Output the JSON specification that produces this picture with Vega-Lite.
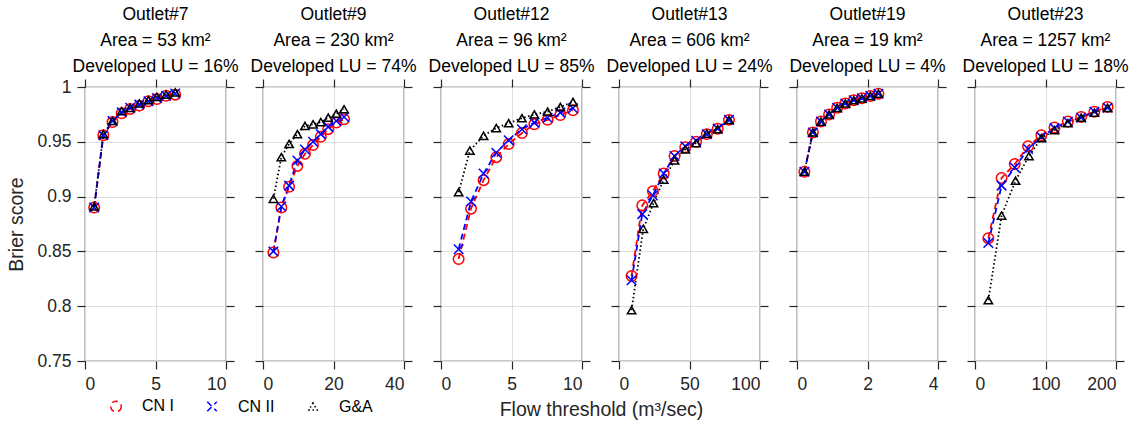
{
  "$schema": "https://vega.github.io/schema/vega-lite/v6.json",
  "background": "white",
  "padding": {"left": 6, "top": 4, "right": 0, "bottom": 0},
  "bounds": "flush",
  "spacing": 37,
  "config": {
    "font": "Liberation Sans",
    "view": {"stroke": "#262626", "strokeWidth": 1.2},
    "axis": {"domain": false, "tickColor": "#262626", "tickSize": 8, "tickWidth": 1.2, "labelFont": "Liberation Sans", "labelFontSize": 17.5, "labelColor": "#262626", "titleFont": "Liberation Sans", "titleFontSize": 19.5, "titleFontWeight": "normal", "titleColor": "#262626", "gridColor": "#dedede", "gridWidth": 1, "labelPadding": 6},
    "title": {"font": "Liberation Sans", "fontSize": 17.5, "fontWeight": "normal", "color": "#000000", "lineHeight": 26, "offset": 3, "anchor": "middle"},
    "legend": {"labelFont": "Liberation Sans", "labelFontSize": 16, "labelColor": "#000000", "symbolStrokeWidth": 1.5, "columnPadding": 30, "labelOffset": 18, "symbolSize": 120}
  },
  "datasets": {
    "d": [
      {"o": "Outlet#7", "s": "CN I", "x": 0.65, "y": 0.890},
      {"o": "Outlet#7", "s": "CN I", "x": 1.3, "y": 0.956},
      {"o": "Outlet#7", "s": "CN I", "x": 1.95, "y": 0.968},
      {"o": "Outlet#7", "s": "CN I", "x": 2.6, "y": 0.976},
      {"o": "Outlet#7", "s": "CN I", "x": 3.2, "y": 0.980},
      {"o": "Outlet#7", "s": "CN I", "x": 3.85, "y": 0.983},
      {"o": "Outlet#7", "s": "CN I", "x": 4.5, "y": 0.987},
      {"o": "Outlet#7", "s": "CN I", "x": 5.1, "y": 0.989},
      {"o": "Outlet#7", "s": "CN I", "x": 5.75, "y": 0.992},
      {"o": "Outlet#7", "s": "CN I", "x": 6.4, "y": 0.993},
      {"o": "Outlet#7", "s": "CN II", "x": 0.65, "y": 0.890},
      {"o": "Outlet#7", "s": "CN II", "x": 1.3, "y": 0.956},
      {"o": "Outlet#7", "s": "CN II", "x": 1.95, "y": 0.969},
      {"o": "Outlet#7", "s": "CN II", "x": 2.6, "y": 0.977},
      {"o": "Outlet#7", "s": "CN II", "x": 3.2, "y": 0.981},
      {"o": "Outlet#7", "s": "CN II", "x": 3.85, "y": 0.984},
      {"o": "Outlet#7", "s": "CN II", "x": 4.5, "y": 0.987},
      {"o": "Outlet#7", "s": "CN II", "x": 5.1, "y": 0.990},
      {"o": "Outlet#7", "s": "CN II", "x": 5.75, "y": 0.992},
      {"o": "Outlet#7", "s": "CN II", "x": 6.4, "y": 0.994},
      {"o": "Outlet#7", "s": "G&A", "x": 0.65, "y": 0.891},
      {"o": "Outlet#7", "s": "G&A", "x": 1.3, "y": 0.957},
      {"o": "Outlet#7", "s": "G&A", "x": 1.95, "y": 0.969},
      {"o": "Outlet#7", "s": "G&A", "x": 2.6, "y": 0.978},
      {"o": "Outlet#7", "s": "G&A", "x": 3.2, "y": 0.981},
      {"o": "Outlet#7", "s": "G&A", "x": 3.85, "y": 0.985},
      {"o": "Outlet#7", "s": "G&A", "x": 4.5, "y": 0.988},
      {"o": "Outlet#7", "s": "G&A", "x": 5.1, "y": 0.991},
      {"o": "Outlet#7", "s": "G&A", "x": 5.75, "y": 0.993},
      {"o": "Outlet#7", "s": "G&A", "x": 6.4, "y": 0.995},

      {"o": "Outlet#9", "s": "CN I", "x": 2.95, "y": 0.849},
      {"o": "Outlet#9", "s": "CN I", "x": 5.2, "y": 0.890},
      {"o": "Outlet#9", "s": "CN I", "x": 7.4, "y": 0.909},
      {"o": "Outlet#9", "s": "CN I", "x": 9.75, "y": 0.928},
      {"o": "Outlet#9", "s": "CN I", "x": 11.9, "y": 0.939},
      {"o": "Outlet#9", "s": "CN I", "x": 14.2, "y": 0.947},
      {"o": "Outlet#9", "s": "CN I", "x": 16.4, "y": 0.9545},
      {"o": "Outlet#9", "s": "CN I", "x": 18.5, "y": 0.9615},
      {"o": "Outlet#9", "s": "CN I", "x": 20.8, "y": 0.9675},
      {"o": "Outlet#9", "s": "CN I", "x": 23.0, "y": 0.9706},
      {"o": "Outlet#9", "s": "CN II", "x": 2.95, "y": 0.850},
      {"o": "Outlet#9", "s": "CN II", "x": 5.2, "y": 0.891},
      {"o": "Outlet#9", "s": "CN II", "x": 7.4, "y": 0.910},
      {"o": "Outlet#9", "s": "CN II", "x": 9.75, "y": 0.933},
      {"o": "Outlet#9", "s": "CN II", "x": 11.9, "y": 0.943},
      {"o": "Outlet#9", "s": "CN II", "x": 14.2, "y": 0.950},
      {"o": "Outlet#9", "s": "CN II", "x": 16.4, "y": 0.957},
      {"o": "Outlet#9", "s": "CN II", "x": 18.5, "y": 0.9636},
      {"o": "Outlet#9", "s": "CN II", "x": 20.8, "y": 0.969},
      {"o": "Outlet#9", "s": "CN II", "x": 23.0, "y": 0.9727},
      {"o": "Outlet#9", "s": "G&A", "x": 2.95, "y": 0.898},
      {"o": "Outlet#9", "s": "G&A", "x": 5.2, "y": 0.936},
      {"o": "Outlet#9", "s": "G&A", "x": 7.4, "y": 0.948},
      {"o": "Outlet#9", "s": "G&A", "x": 9.75, "y": 0.957},
      {"o": "Outlet#9", "s": "G&A", "x": 11.9, "y": 0.9645},
      {"o": "Outlet#9", "s": "G&A", "x": 14.2, "y": 0.966},
      {"o": "Outlet#9", "s": "G&A", "x": 16.4, "y": 0.968},
      {"o": "Outlet#9", "s": "G&A", "x": 18.5, "y": 0.972},
      {"o": "Outlet#9", "s": "G&A", "x": 20.8, "y": 0.9757},
      {"o": "Outlet#9", "s": "G&A", "x": 23.0, "y": 0.9797},

      {"o": "Outlet#12", "s": "CN I", "x": 1.25, "y": 0.843},
      {"o": "Outlet#12", "s": "CN I", "x": 2.13, "y": 0.889},
      {"o": "Outlet#12", "s": "CN I", "x": 3.02, "y": 0.915},
      {"o": "Outlet#12", "s": "CN I", "x": 3.92, "y": 0.936},
      {"o": "Outlet#12", "s": "CN I", "x": 4.8, "y": 0.948},
      {"o": "Outlet#12", "s": "CN I", "x": 5.74, "y": 0.958},
      {"o": "Outlet#12", "s": "CN I", "x": 6.62, "y": 0.966},
      {"o": "Outlet#12", "s": "CN I", "x": 7.56, "y": 0.970},
      {"o": "Outlet#12", "s": "CN I", "x": 8.46, "y": 0.9745},
      {"o": "Outlet#12", "s": "CN I", "x": 9.36, "y": 0.9788},
      {"o": "Outlet#12", "s": "CN II", "x": 1.25, "y": 0.852},
      {"o": "Outlet#12", "s": "CN II", "x": 2.13, "y": 0.8955},
      {"o": "Outlet#12", "s": "CN II", "x": 3.02, "y": 0.921},
      {"o": "Outlet#12", "s": "CN II", "x": 3.92, "y": 0.940},
      {"o": "Outlet#12", "s": "CN II", "x": 4.8, "y": 0.9515},
      {"o": "Outlet#12", "s": "CN II", "x": 5.74, "y": 0.9615},
      {"o": "Outlet#12", "s": "CN II", "x": 6.62, "y": 0.9675},
      {"o": "Outlet#12", "s": "CN II", "x": 7.56, "y": 0.972},
      {"o": "Outlet#12", "s": "CN II", "x": 8.46, "y": 0.9766},
      {"o": "Outlet#12", "s": "CN II", "x": 9.36, "y": 0.9806},
      {"o": "Outlet#12", "s": "G&A", "x": 1.25, "y": 0.904},
      {"o": "Outlet#12", "s": "G&A", "x": 2.05, "y": 0.942},
      {"o": "Outlet#12", "s": "G&A", "x": 3.02, "y": 0.9555},
      {"o": "Outlet#12", "s": "G&A", "x": 3.92, "y": 0.9625},
      {"o": "Outlet#12", "s": "G&A", "x": 4.8, "y": 0.967},
      {"o": "Outlet#12", "s": "G&A", "x": 5.74, "y": 0.9715},
      {"o": "Outlet#12", "s": "G&A", "x": 6.62, "y": 0.975},
      {"o": "Outlet#12", "s": "G&A", "x": 7.56, "y": 0.9775},
      {"o": "Outlet#12", "s": "G&A", "x": 8.46, "y": 0.9818},
      {"o": "Outlet#12", "s": "G&A", "x": 9.36, "y": 0.9864},

      {"o": "Outlet#13", "s": "CN I", "x": 8.9, "y": 0.8276},
      {"o": "Outlet#13", "s": "CN I", "x": 16.5, "y": 0.892},
      {"o": "Outlet#13", "s": "CN I", "x": 24.0, "y": 0.905},
      {"o": "Outlet#13", "s": "CN I", "x": 31.7, "y": 0.921},
      {"o": "Outlet#13", "s": "CN I", "x": 39.4, "y": 0.937},
      {"o": "Outlet#13", "s": "CN I", "x": 47.0, "y": 0.945},
      {"o": "Outlet#13", "s": "CN I", "x": 54.7, "y": 0.950},
      {"o": "Outlet#13", "s": "CN I", "x": 62.3, "y": 0.957},
      {"o": "Outlet#13", "s": "CN I", "x": 70.0, "y": 0.962},
      {"o": "Outlet#13", "s": "CN I", "x": 78.0, "y": 0.970},
      {"o": "Outlet#13", "s": "CN II", "x": 8.9, "y": 0.8236},
      {"o": "Outlet#13", "s": "CN II", "x": 16.5, "y": 0.884},
      {"o": "Outlet#13", "s": "CN II", "x": 24.0, "y": 0.901},
      {"o": "Outlet#13", "s": "CN II", "x": 31.7, "y": 0.921},
      {"o": "Outlet#13", "s": "CN II", "x": 39.4, "y": 0.937},
      {"o": "Outlet#13", "s": "CN II", "x": 47.0, "y": 0.946},
      {"o": "Outlet#13", "s": "CN II", "x": 54.7, "y": 0.951},
      {"o": "Outlet#13", "s": "CN II", "x": 62.3, "y": 0.957},
      {"o": "Outlet#13", "s": "CN II", "x": 70.0, "y": 0.962},
      {"o": "Outlet#13", "s": "CN II", "x": 78.0, "y": 0.970},
      {"o": "Outlet#13", "s": "G&A", "x": 8.9, "y": 0.7964},
      {"o": "Outlet#13", "s": "G&A", "x": 17.2, "y": 0.8706},
      {"o": "Outlet#13", "s": "G&A", "x": 24.5, "y": 0.894},
      {"o": "Outlet#13", "s": "G&A", "x": 31.7, "y": 0.9155},
      {"o": "Outlet#13", "s": "G&A", "x": 39.4, "y": 0.933},
      {"o": "Outlet#13", "s": "G&A", "x": 47.0, "y": 0.943},
      {"o": "Outlet#13", "s": "G&A", "x": 54.7, "y": 0.9488},
      {"o": "Outlet#13", "s": "G&A", "x": 62.3, "y": 0.9575},
      {"o": "Outlet#13", "s": "G&A", "x": 70.0, "y": 0.9615},
      {"o": "Outlet#13", "s": "G&A", "x": 78.0, "y": 0.970},

      {"o": "Outlet#19", "s": "CN I", "x": 0.21, "y": 0.9227},
      {"o": "Outlet#19", "s": "CN I", "x": 0.45, "y": 0.9585},
      {"o": "Outlet#19", "s": "CN I", "x": 0.68, "y": 0.9685},
      {"o": "Outlet#19", "s": "CN I", "x": 0.91, "y": 0.975},
      {"o": "Outlet#19", "s": "CN I", "x": 1.14, "y": 0.981},
      {"o": "Outlet#19", "s": "CN I", "x": 1.37, "y": 0.985},
      {"o": "Outlet#19", "s": "CN I", "x": 1.61, "y": 0.988},
      {"o": "Outlet#19", "s": "CN I", "x": 1.84, "y": 0.9897},
      {"o": "Outlet#19", "s": "CN I", "x": 2.08, "y": 0.9918},
      {"o": "Outlet#19", "s": "CN I", "x": 2.31, "y": 0.9939},
      {"o": "Outlet#19", "s": "CN II", "x": 0.21, "y": 0.9227},
      {"o": "Outlet#19", "s": "CN II", "x": 0.45, "y": 0.9585},
      {"o": "Outlet#19", "s": "CN II", "x": 0.68, "y": 0.9685},
      {"o": "Outlet#19", "s": "CN II", "x": 0.91, "y": 0.975},
      {"o": "Outlet#19", "s": "CN II", "x": 1.14, "y": 0.981},
      {"o": "Outlet#19", "s": "CN II", "x": 1.37, "y": 0.985},
      {"o": "Outlet#19", "s": "CN II", "x": 1.61, "y": 0.988},
      {"o": "Outlet#19", "s": "CN II", "x": 1.84, "y": 0.9897},
      {"o": "Outlet#19", "s": "CN II", "x": 2.08, "y": 0.9918},
      {"o": "Outlet#19", "s": "CN II", "x": 2.31, "y": 0.9939},
      {"o": "Outlet#19", "s": "G&A", "x": 0.21, "y": 0.9227},
      {"o": "Outlet#19", "s": "G&A", "x": 0.45, "y": 0.9585},
      {"o": "Outlet#19", "s": "G&A", "x": 0.68, "y": 0.9685},
      {"o": "Outlet#19", "s": "G&A", "x": 0.91, "y": 0.975},
      {"o": "Outlet#19", "s": "G&A", "x": 1.14, "y": 0.981},
      {"o": "Outlet#19", "s": "G&A", "x": 1.37, "y": 0.985},
      {"o": "Outlet#19", "s": "G&A", "x": 1.61, "y": 0.988},
      {"o": "Outlet#19", "s": "G&A", "x": 1.84, "y": 0.9897},
      {"o": "Outlet#19", "s": "G&A", "x": 2.08, "y": 0.9918},
      {"o": "Outlet#19", "s": "G&A", "x": 2.31, "y": 0.9939},

      {"o": "Outlet#23", "s": "CN I", "x": 18.9, "y": 0.862},
      {"o": "Outlet#23", "s": "CN I", "x": 37.7, "y": 0.917},
      {"o": "Outlet#23", "s": "CN I", "x": 56.4, "y": 0.9297},
      {"o": "Outlet#23", "s": "CN I", "x": 75.3, "y": 0.946},
      {"o": "Outlet#23", "s": "CN I", "x": 94.1, "y": 0.956},
      {"o": "Outlet#23", "s": "CN I", "x": 112.8, "y": 0.963},
      {"o": "Outlet#23", "s": "CN I", "x": 131.7, "y": 0.9685},
      {"o": "Outlet#23", "s": "CN I", "x": 150.5, "y": 0.9727},
      {"o": "Outlet#23", "s": "CN I", "x": 169.3, "y": 0.9775},
      {"o": "Outlet#23", "s": "CN I", "x": 188.1, "y": 0.9818},
      {"o": "Outlet#23", "s": "CN II", "x": 18.9, "y": 0.8576},
      {"o": "Outlet#23", "s": "CN II", "x": 37.7, "y": 0.910},
      {"o": "Outlet#23", "s": "CN II", "x": 56.4, "y": 0.9266},
      {"o": "Outlet#23", "s": "CN II", "x": 75.3, "y": 0.9434},
      {"o": "Outlet#23", "s": "CN II", "x": 94.1, "y": 0.9545},
      {"o": "Outlet#23", "s": "CN II", "x": 112.8, "y": 0.9625},
      {"o": "Outlet#23", "s": "CN II", "x": 131.7, "y": 0.9685},
      {"o": "Outlet#23", "s": "CN II", "x": 150.5, "y": 0.972},
      {"o": "Outlet#23", "s": "CN II", "x": 169.3, "y": 0.9775},
      {"o": "Outlet#23", "s": "CN II", "x": 188.1, "y": 0.981},
      {"o": "Outlet#23", "s": "G&A", "x": 18.9, "y": 0.8055},
      {"o": "Outlet#23", "s": "G&A", "x": 37.7, "y": 0.8827},
      {"o": "Outlet#23", "s": "G&A", "x": 57.5, "y": 0.9145},
      {"o": "Outlet#23", "s": "G&A", "x": 76.5, "y": 0.937},
      {"o": "Outlet#23", "s": "G&A", "x": 94.1, "y": 0.9533},
      {"o": "Outlet#23", "s": "G&A", "x": 112.8, "y": 0.9606},
      {"o": "Outlet#23", "s": "G&A", "x": 131.7, "y": 0.967},
      {"o": "Outlet#23", "s": "G&A", "x": 150.5, "y": 0.972},
      {"o": "Outlet#23", "s": "G&A", "x": 169.3, "y": 0.9766},
      {"o": "Outlet#23", "s": "G&A", "x": 188.1, "y": 0.981}
    ]
  },
  "data": {"name": "d"},
  "hconcat": [
    {
      "width": 141, "height": 274,
      "title": {"text": ["Outlet#7", "Area = 53 km²", "Developed LU = 16%"]},
      "transform": [{"filter": "datum.o === 'Outlet#7'"}],
      "layer": [
        {"mark": {"type": "line", "strokeWidth": 1.8},
         "encoding": {
           "x": {"field": "x", "type": "quantitative", "scale": {"domain": [0, 10], "nice": false, "zero": false}, "axis": {"orient": "bottom", "values": [0, 5, 10], "title": null, "grid": true}},
           "y": {"field": "y", "type": "quantitative", "scale": {"domain": [0.75, 1], "nice": false, "zero": false}, "axis": {"orient": "left", "values": [0.75, 0.8, 0.85, 0.9, 0.95, 1], "format": "~g", "title": "Brier score", "grid": true, "titlePadding": 10}},
           "color": {"field": "s", "type": "nominal", "title": null, "scale": {"domain": ["CN I", "CN II", "G&A"], "range": ["#ff0000", "#0000ff", "#000000"]}, "legend": {"orient": "none", "legendX": 23, "legendY": 311, "direction": "horizontal", "title": null}},
           "strokeDash": {"field": "s", "type": "nominal", "scale": {"domain": ["CN I", "CN II", "G&A"], "range": [[6, 4], [6, 4], [1.5, 2.5]]}, "legend": null}
         }},
        {"mark": {"type": "point", "filled": false, "strokeWidth": 1.5, "opacity": 1},
         "encoding": {
           "x": {"field": "x", "type": "quantitative", "scale": {"domain": [0, 10], "nice": false, "zero": false}, "axis": {"orient": "top", "values": [0, 5, 10], "labels": false, "title": null, "grid": false}},
           "y": {"field": "y", "type": "quantitative", "scale": {"domain": [0.75, 1], "nice": false, "zero": false}, "axis": {"orient": "right", "values": [0.75, 0.8, 0.85, 0.9, 0.95, 1], "labels": false, "title": null, "grid": false}},
           "color": {"field": "s", "type": "nominal", "title": null, "scale": {"domain": ["CN I", "CN II", "G&A"], "range": ["#ff0000", "#0000ff", "#000000"]}},
           "shape": {"field": "s", "type": "nominal", "title": null, "scale": {"domain": ["CN I", "CN II", "G&A"], "range": ["circle", "M-1,-1L1,1M-1,1L1,-1", "triangle-up"]}},
           "size": {"field": "s", "type": "nominal", "scale": {"domain": ["CN I", "CN II", "G&A"], "range": [110, 70, 90]}, "legend": null}
         }}
      ],
      "resolve": {"axis": {"x": "independent", "y": "independent"}}
    },
    {
      "width": 141, "height": 274,
      "title": {"text": ["Outlet#9", "Area = 230 km²", "Developed LU = 74%"]},
      "transform": [{"filter": "datum.o === 'Outlet#9'"}],
      "layer": [
        {"mark": {"type": "line", "strokeWidth": 1.8},
         "encoding": {
           "x": {"field": "x", "type": "quantitative", "scale": {"domain": [0, 40], "nice": false, "zero": false}, "axis": {"orient": "bottom", "values": [0, 20, 40], "title": null, "grid": true}},
           "y": {"field": "y", "type": "quantitative", "scale": {"domain": [0.75, 1], "nice": false, "zero": false}, "axis": {"orient": "left", "values": [0.75, 0.8, 0.85, 0.9, 0.95, 1], "labels": false, "title": null, "grid": true}},
           "color": {"field": "s", "type": "nominal", "title": null, "scale": {"domain": ["CN I", "CN II", "G&A"], "range": ["#ff0000", "#0000ff", "#000000"]}},
           "strokeDash": {"field": "s", "type": "nominal", "scale": {"domain": ["CN I", "CN II", "G&A"], "range": [[6, 4], [6, 4], [1.5, 2.5]]}, "legend": null}
         }},
        {"mark": {"type": "point", "filled": false, "strokeWidth": 1.5, "opacity": 1},
         "encoding": {
           "x": {"field": "x", "type": "quantitative", "scale": {"domain": [0, 40], "nice": false, "zero": false}, "axis": {"orient": "top", "values": [0, 20, 40], "labels": false, "title": null, "grid": false}},
           "y": {"field": "y", "type": "quantitative", "scale": {"domain": [0.75, 1], "nice": false, "zero": false}, "axis": {"orient": "right", "values": [0.75, 0.8, 0.85, 0.9, 0.95, 1], "labels": false, "title": null, "grid": false}},
           "color": {"field": "s", "type": "nominal", "title": null, "scale": {"domain": ["CN I", "CN II", "G&A"], "range": ["#ff0000", "#0000ff", "#000000"]}},
           "shape": {"field": "s", "type": "nominal", "title": null, "scale": {"domain": ["CN I", "CN II", "G&A"], "range": ["circle", "M-1,-1L1,1M-1,1L1,-1", "triangle-up"]}},
           "size": {"field": "s", "type": "nominal", "scale": {"domain": ["CN I", "CN II", "G&A"], "range": [110, 70, 90]}, "legend": null}
         }}
      ],
      "resolve": {"axis": {"x": "independent", "y": "independent"}}
    },
    {
      "width": 141, "height": 274,
      "title": {"text": ["Outlet#12", "Area = 96 km²", "Developed LU = 85%"]},
      "transform": [{"filter": "datum.o === 'Outlet#12'"}],
      "layer": [
        {"mark": {"type": "line", "strokeWidth": 1.8},
         "encoding": {
           "x": {"field": "x", "type": "quantitative", "scale": {"domain": [0, 10], "nice": false, "zero": false}, "axis": {"orient": "bottom", "values": [0, 5, 10], "title": "Flow threshold (m³/sec)", "titleX": 160, "titleAlign": "center", "titlePadding": 8, "grid": true}},
           "y": {"field": "y", "type": "quantitative", "scale": {"domain": [0.75, 1], "nice": false, "zero": false}, "axis": {"orient": "left", "values": [0.75, 0.8, 0.85, 0.9, 0.95, 1], "labels": false, "title": null, "grid": true}},
           "color": {"field": "s", "type": "nominal", "title": null, "scale": {"domain": ["CN I", "CN II", "G&A"], "range": ["#ff0000", "#0000ff", "#000000"]}},
           "strokeDash": {"field": "s", "type": "nominal", "scale": {"domain": ["CN I", "CN II", "G&A"], "range": [[6, 4], [6, 4], [1.5, 2.5]]}, "legend": null}
         }},
        {"mark": {"type": "point", "filled": false, "strokeWidth": 1.5, "opacity": 1},
         "encoding": {
           "x": {"field": "x", "type": "quantitative", "scale": {"domain": [0, 10], "nice": false, "zero": false}, "axis": {"orient": "top", "values": [0, 5, 10], "labels": false, "title": null, "grid": false}},
           "y": {"field": "y", "type": "quantitative", "scale": {"domain": [0.75, 1], "nice": false, "zero": false}, "axis": {"orient": "right", "values": [0.75, 0.8, 0.85, 0.9, 0.95, 1], "labels": false, "title": null, "grid": false}},
           "color": {"field": "s", "type": "nominal", "title": null, "scale": {"domain": ["CN I", "CN II", "G&A"], "range": ["#ff0000", "#0000ff", "#000000"]}},
           "shape": {"field": "s", "type": "nominal", "title": null, "scale": {"domain": ["CN I", "CN II", "G&A"], "range": ["circle", "M-1,-1L1,1M-1,1L1,-1", "triangle-up"]}},
           "size": {"field": "s", "type": "nominal", "scale": {"domain": ["CN I", "CN II", "G&A"], "range": [110, 70, 90]}, "legend": null}
         }}
      ],
      "resolve": {"axis": {"x": "independent", "y": "independent"}}
    },
    {
      "width": 141, "height": 274,
      "title": {"text": ["Outlet#13", "Area = 606 km²", "Developed LU = 24%"]},
      "transform": [{"filter": "datum.o === 'Outlet#13'"}],
      "layer": [
        {"mark": {"type": "line", "strokeWidth": 1.8},
         "encoding": {
           "x": {"field": "x", "type": "quantitative", "scale": {"domain": [0, 100], "nice": false, "zero": false}, "axis": {"orient": "bottom", "values": [0, 50, 100], "title": null, "grid": true}},
           "y": {"field": "y", "type": "quantitative", "scale": {"domain": [0.75, 1], "nice": false, "zero": false}, "axis": {"orient": "left", "values": [0.75, 0.8, 0.85, 0.9, 0.95, 1], "labels": false, "title": null, "grid": true}},
           "color": {"field": "s", "type": "nominal", "title": null, "scale": {"domain": ["CN I", "CN II", "G&A"], "range": ["#ff0000", "#0000ff", "#000000"]}},
           "strokeDash": {"field": "s", "type": "nominal", "scale": {"domain": ["CN I", "CN II", "G&A"], "range": [[6, 4], [6, 4], [1.5, 2.5]]}, "legend": null}
         }},
        {"mark": {"type": "point", "filled": false, "strokeWidth": 1.5, "opacity": 1},
         "encoding": {
           "x": {"field": "x", "type": "quantitative", "scale": {"domain": [0, 100], "nice": false, "zero": false}, "axis": {"orient": "top", "values": [0, 50, 100], "labels": false, "title": null, "grid": false}},
           "y": {"field": "y", "type": "quantitative", "scale": {"domain": [0.75, 1], "nice": false, "zero": false}, "axis": {"orient": "right", "values": [0.75, 0.8, 0.85, 0.9, 0.95, 1], "labels": false, "title": null, "grid": false}},
           "color": {"field": "s", "type": "nominal", "title": null, "scale": {"domain": ["CN I", "CN II", "G&A"], "range": ["#ff0000", "#0000ff", "#000000"]}},
           "shape": {"field": "s", "type": "nominal", "title": null, "scale": {"domain": ["CN I", "CN II", "G&A"], "range": ["circle", "M-1,-1L1,1M-1,1L1,-1", "triangle-up"]}},
           "size": {"field": "s", "type": "nominal", "scale": {"domain": ["CN I", "CN II", "G&A"], "range": [110, 70, 90]}, "legend": null}
         }}
      ],
      "resolve": {"axis": {"x": "independent", "y": "independent"}}
    },
    {
      "width": 141, "height": 274,
      "title": {"text": ["Outlet#19", "Area = 19 km²", "Developed LU = 4%"]},
      "transform": [{"filter": "datum.o === 'Outlet#19'"}],
      "layer": [
        {"mark": {"type": "line", "strokeWidth": 1.8},
         "encoding": {
           "x": {"field": "x", "type": "quantitative", "scale": {"domain": [0, 4], "nice": false, "zero": false}, "axis": {"orient": "bottom", "values": [0, 2, 4], "title": null, "grid": true}},
           "y": {"field": "y", "type": "quantitative", "scale": {"domain": [0.75, 1], "nice": false, "zero": false}, "axis": {"orient": "left", "values": [0.75, 0.8, 0.85, 0.9, 0.95, 1], "labels": false, "title": null, "grid": true}},
           "color": {"field": "s", "type": "nominal", "title": null, "scale": {"domain": ["CN I", "CN II", "G&A"], "range": ["#ff0000", "#0000ff", "#000000"]}},
           "strokeDash": {"field": "s", "type": "nominal", "scale": {"domain": ["CN I", "CN II", "G&A"], "range": [[6, 4], [6, 4], [1.5, 2.5]]}, "legend": null}
         }},
        {"mark": {"type": "point", "filled": false, "strokeWidth": 1.5, "opacity": 1},
         "encoding": {
           "x": {"field": "x", "type": "quantitative", "scale": {"domain": [0, 4], "nice": false, "zero": false}, "axis": {"orient": "top", "values": [0, 2, 4], "labels": false, "title": null, "grid": false}},
           "y": {"field": "y", "type": "quantitative", "scale": {"domain": [0.75, 1], "nice": false, "zero": false}, "axis": {"orient": "right", "values": [0.75, 0.8, 0.85, 0.9, 0.95, 1], "labels": false, "title": null, "grid": false}},
           "color": {"field": "s", "type": "nominal", "title": null, "scale": {"domain": ["CN I", "CN II", "G&A"], "range": ["#ff0000", "#0000ff", "#000000"]}},
           "shape": {"field": "s", "type": "nominal", "title": null, "scale": {"domain": ["CN I", "CN II", "G&A"], "range": ["circle", "M-1,-1L1,1M-1,1L1,-1", "triangle-up"]}},
           "size": {"field": "s", "type": "nominal", "scale": {"domain": ["CN I", "CN II", "G&A"], "range": [110, 70, 90]}, "legend": null}
         }}
      ],
      "resolve": {"axis": {"x": "independent", "y": "independent"}}
    },
    {
      "width": 141, "height": 274,
      "title": {"text": ["Outlet#23", "Area = 1257 km²", "Developed LU = 18%"]},
      "transform": [{"filter": "datum.o === 'Outlet#23'"}],
      "layer": [
        {"mark": {"type": "line", "strokeWidth": 1.8},
         "encoding": {
           "x": {"field": "x", "type": "quantitative", "scale": {"domain": [0, 200], "nice": false, "zero": false}, "axis": {"orient": "bottom", "values": [0, 100, 200], "title": null, "grid": true}},
           "y": {"field": "y", "type": "quantitative", "scale": {"domain": [0.75, 1], "nice": false, "zero": false}, "axis": {"orient": "left", "values": [0.75, 0.8, 0.85, 0.9, 0.95, 1], "labels": false, "title": null, "grid": true}},
           "color": {"field": "s", "type": "nominal", "title": null, "scale": {"domain": ["CN I", "CN II", "G&A"], "range": ["#ff0000", "#0000ff", "#000000"]}},
           "strokeDash": {"field": "s", "type": "nominal", "scale": {"domain": ["CN I", "CN II", "G&A"], "range": [[6, 4], [6, 4], [1.5, 2.5]]}, "legend": null}
         }},
        {"mark": {"type": "point", "filled": false, "strokeWidth": 1.5, "opacity": 1},
         "encoding": {
           "x": {"field": "x", "type": "quantitative", "scale": {"domain": [0, 200], "nice": false, "zero": false}, "axis": {"orient": "top", "values": [0, 100, 200], "labels": false, "title": null, "grid": false}},
           "y": {"field": "y", "type": "quantitative", "scale": {"domain": [0.75, 1], "nice": false, "zero": false}, "axis": {"orient": "right", "values": [0.75, 0.8, 0.85, 0.9, 0.95, 1], "labels": false, "title": null, "grid": false}},
           "color": {"field": "s", "type": "nominal", "title": null, "scale": {"domain": ["CN I", "CN II", "G&A"], "range": ["#ff0000", "#0000ff", "#000000"]}},
           "shape": {"field": "s", "type": "nominal", "title": null, "scale": {"domain": ["CN I", "CN II", "G&A"], "range": ["circle", "M-1,-1L1,1M-1,1L1,-1", "triangle-up"]}},
           "size": {"field": "s", "type": "nominal", "scale": {"domain": ["CN I", "CN II", "G&A"], "range": [110, 70, 90]}, "legend": null}
         }}
      ],
      "resolve": {"axis": {"x": "independent", "y": "independent"}}
    }
  ]
}
